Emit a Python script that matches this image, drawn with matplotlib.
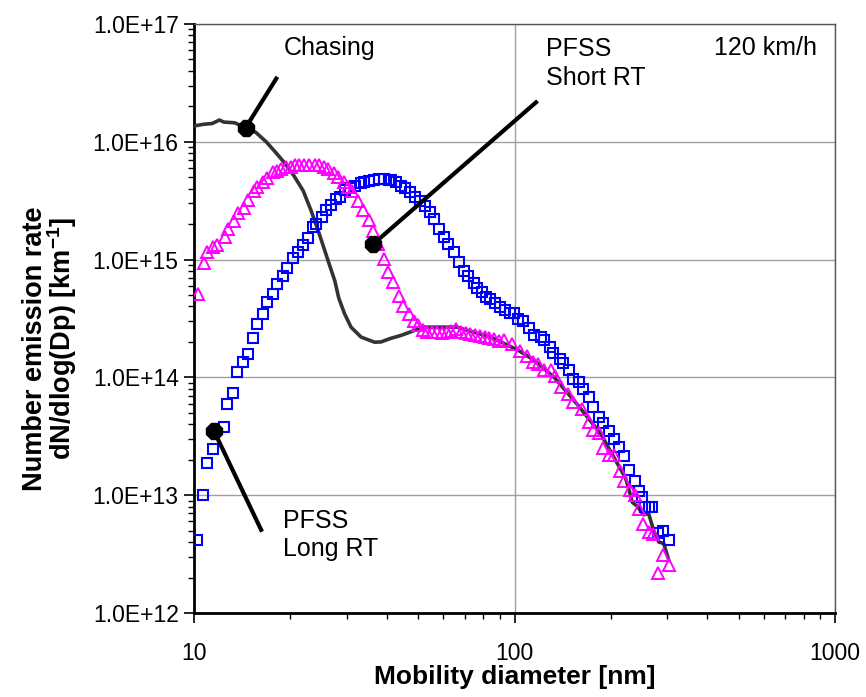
import numpy as np
import matplotlib
matplotlib.use("Agg")
import matplotlib.pyplot as plt
from matplotlib.ticker import LogLocator, FuncFormatter, NullFormatter

plt.rcParams['font.family'] = ['Liberation Sans', 'DejaVu Sans']

# PFSS with long residence time (blue squares)
long_rt_d = [10.2, 10.67, 10.98, 11.49, 12.38, 12.68, 13.27, 13.62, 14.23, 14.7,
             15.29, 15.77, 16.47, 16.95, 17.69, 18.17, 18.96, 19.5, 20.4, 21.06,
             21.9, 22.67, 23.5, 24.1, 25.1, 25.9, 26.8, 27.8, 28.6, 29.6,
             30.7, 31.8, 33.1, 34.0, 35.1, 36.4, 37.7, 39.2, 40.5, 41.3,
             42.8, 44.3, 45.6, 47.3, 49.0, 50.6, 52.5, 54.3, 56.1, 58.0,
             60.2, 62.1, 64.8, 67.2, 69.7, 71.8, 74.5, 76.6, 79.2, 81.5,
             84.0, 86.9, 90.2, 93.5, 96.5, 99.5, 102.8, 106.6, 111.3, 115.0,
             120.9, 123.3, 129.2, 132.1, 138.4, 141.6, 147.9, 152.2, 159.3, 163.4,
             170.2, 175.7, 183.1, 189.3, 197.3, 203.8, 211.6, 219.9, 228.3, 237.0,
             244.5, 250.0, 255.0, 262.0, 269.0, 280.0, 290.0, 303.0]
long_rt_n = [4.2e12, 1.0e13, 1.88e13, 2.45e13, 3.8e13, 6.0e13, 7.4e13, 1.12e14, 1.36e14, 1.59e14,
             2.17e14, 2.85e14, 3.47e14, 4.34e14, 5.15e14, 6.2e14, 7.3e14, 8.55e14, 1.03e15, 1.17e15,
             1.32e15, 1.53e15, 1.88e15, 2.0e15, 2.31e15, 2.64e15, 2.88e15, 3.24e15, 3.42e15, 3.9e15,
             4.05e15, 4.2e15, 4.47e15, 4.58e15, 4.65e15, 4.73e15, 4.8e15, 4.8e15, 4.78e15, 4.73e15,
             4.52e15, 4.23e15, 4.05e15, 3.72e15, 3.42e15, 3.16e15, 2.87e15, 2.52e15, 2.21e15, 1.82e15,
             1.57e15, 1.36e15, 1.15e15, 9.5e14, 7.96e14, 7.2e14, 6.3e14, 5.75e14, 5.3e14, 4.85e14,
             4.65e14, 4.27e14, 3.95e14, 3.7e14, 3.5e14, 3.5e14, 3.14e14, 3.0e14, 2.64e14, 2.27e14,
             2.2e14, 2.06e14, 1.81e14, 1.61e14, 1.44e14, 1.32e14, 1.16e14, 9.75e13, 9.1e13, 8.0e13,
             6.8e13, 5.6e13, 4.6e13, 4.1e13, 3.5e13, 3.0e13, 2.56e13, 2.14e13, 1.65e13, 1.32e13,
             1.09e13, 9.7e12, 8.0e12, 8.0e12, 8.0e12, 4.8e12, 4.98e12, 4.2e12]

# PFSS with short residence time (magenta triangles)
short_rt_d = [10.27, 10.72, 11.0, 11.5, 11.8, 12.5, 12.8, 13.3, 13.7, 14.3,
              14.7, 15.35, 15.7, 16.4, 16.9, 17.6, 18.2, 18.7, 19.4, 20.1,
              20.7, 21.3, 22.1, 22.9, 23.8, 24.6, 25.4, 26.2, 27.3, 28.1,
              29.3, 30.2, 31.2, 32.5, 33.7, 35.2, 36.1, 37.5, 39.1, 40.3,
              41.7, 43.7, 44.8, 46.9, 48.5, 50.1, 51.7, 53.5, 55.4, 57.3,
              59.3, 61.4, 63.5, 65.7, 68.0, 70.4, 72.8, 75.4, 78.0, 80.7,
              83.5, 86.4, 89.4, 92.7, 97.9, 104.0, 109.3, 114.3, 118.4, 123.3,
              130.2, 133.4, 140.1, 147.1, 152.3, 162.0, 170.6, 176.0, 184.0, 189.3,
              197.3, 204.0, 212.8, 219.9, 229.0, 236.9, 245.0, 252.3, 262.0, 270.0,
              281.0, 290.0, 303.0]
short_rt_n = [5.1e14, 9.3e14, 1.15e15, 1.27e15, 1.34e15, 1.57e15, 1.82e15, 2.11e15, 2.47e15, 2.74e15,
              3.2e15, 3.8e15, 4.1e15, 4.6e15, 4.9e15, 5.5e15, 5.7e15, 5.9e15, 6.1e15, 6.1e15,
              6.3e15, 6.4e15, 6.4e15, 6.4e15, 6.4e15, 6.3e15, 6.1e15, 5.9e15, 5.4e15, 5.0e15,
              4.6e15, 4.16e15, 3.8e15, 3.16e15, 2.64e15, 2.17e15, 1.74e15, 1.35e15, 1.01e15, 7.8e14,
              6.4e14, 4.95e14, 4.07e14, 3.42e14, 3.04e14, 2.81e14, 2.54e14, 2.45e14, 2.45e14, 2.42e14,
              2.4e14, 2.45e14, 2.5e14, 2.6e14, 2.45e14, 2.4e14, 2.35e14, 2.3e14, 2.25e14, 2.2e14,
              2.15e14, 2.1e14, 2.05e14, 2.08e14, 1.93e14, 1.67e14, 1.51e14, 1.35e14, 1.29e14, 1.15e14,
              1.16e14, 1.02e14, 8.3e13, 7.2e13, 6.2e13, 5.4e13, 4.2e13, 3.6e13, 3.4e13, 2.5e13,
              2.2e13, 2.2e13, 1.6e13, 1.32e13, 1.1e13, 1.0e13, 7.6e12, 5.75e12, 4.9e12, 4.7e12,
              2.2e12, 3.1e12, 2.55e12]

# Chasing measurement (solid line)
chasing_d = [10.1, 10.75, 11.4, 12.0, 12.4, 13.4, 14.5, 15.6, 16.8, 18.0,
             19.1, 20.5, 21.9, 23.2, 24.6, 26.2, 27.5, 28.3, 29.5, 30.9,
             33.2, 36.6, 38.3, 41.2, 44.2, 48.7, 52.4, 66.3, 71.5, 84.3,
             102.7, 115.0, 133.0, 157.0, 186.0, 222.0, 228.0, 233.0, 241.0, 253.0,
             262.0, 272.0, 282.0, 292.0, 303.0]
chasing_n = [1.37e16, 1.41e16, 1.43e16, 1.53e16, 1.47e16, 1.45e16, 1.32e16, 1.2e16, 1.0e16, 8.1e15,
             6.7e15, 5.15e15, 3.85e15, 2.6e15, 1.65e15, 9.8e14, 6.6e14, 4.7e14, 3.47e14, 2.67e14,
             2.2e14, 1.99e14, 2.0e14, 2.15e14, 2.27e14, 2.5e14, 2.67e14, 2.67e14, 2.5e14, 2.2e14,
             1.7e14, 1.4e14, 1.0e14, 5.9e13, 3.3e13, 1.4e13, 1.1e13, 8.7e12, 8.1e12, 6.8e12,
             7.0e12, 5.0e12, 4.0e12, 3.9e12, 2.8e12]

# Callouts: (label, anchor point on curve, end of leader line, text position)
callout_labels = ["Chasing", "PFSS\nShort RT", "PFSS\nLong RT"]
callout_anchor = [(14.5, 1.32e16), (36.3, 1.36e15), (11.55, 3.5e13)]
callout_end = [(18.2, 3.56e16), (118.0, 2.22e16), (16.3, 4.9e12)]
callout_text = [(19.0, 6.3e16), (125.0, 4.6e16), (19.0, 4.6e12)]
speed_label = "120 km/h"

fig = plt.figure(figsize=(8.66, 6.97), dpi=100)
ax = fig.add_axes([194 / 866, 1 - 613 / 697, (835 - 194) / 866, (613 - 24) / 697])

ax.set_xscale('log')
ax.set_yscale('log')
ax.set_xlim(10, 1000)
ax.set_ylim(1e12, 1e17)

ax.grid(True, which='major', color='#a0a0a0', linewidth=1.0)
ax.set_axisbelow(True)

ax.plot(chasing_d, chasing_n, color='#333333', linewidth=2.6, zorder=3)
ax.plot(long_rt_d, long_rt_n, linestyle='none', marker='s', markersize=7.0,
        markerfacecolor='none', markeredgecolor='#0000ff', markeredgewidth=1.5, zorder=4)
ax.plot(short_rt_d, short_rt_n, linestyle='none', marker='^', markersize=8.0,
        markerfacecolor='none', markeredgecolor='#ff00ff', markeredgewidth=1.4, zorder=4)

for label, (ax0, ay0), (ax1, ay1), (tx, ty) in zip(callout_labels, callout_anchor,
                                                  callout_end, callout_text):
    ax.plot([ax0, ax1], [ay0, ay1], color='black', linewidth=3.0, solid_capstyle='butt', zorder=5)
    ax.plot([ax0], [ay0], marker='8', markersize=12, color='black', zorder=6)
    ax.text(tx, ty, label, fontsize=18, ha='left', va='center', linespacing=1.25, zorder=7)

ax.text(420, 6.3e16, speed_label, fontsize=18, ha='left', va='center')

def sci_fmt(v, pos):
    e = int(round(np.log10(v)))
    return "1.0E+%02d" % e

ax.yaxis.set_major_locator(LogLocator(base=10, numticks=10))
ax.yaxis.set_minor_locator(LogLocator(base=10, subs=np.arange(2, 10), numticks=10))
ax.yaxis.set_major_formatter(FuncFormatter(sci_fmt))
ax.yaxis.set_minor_formatter(NullFormatter())
ax.xaxis.set_major_locator(LogLocator(base=10, numticks=10))
ax.xaxis.set_minor_locator(LogLocator(base=10, subs=np.arange(2, 10), numticks=10))
ax.xaxis.set_major_formatter(FuncFormatter(lambda v, p: "%d" % round(v)))
ax.xaxis.set_minor_formatter(NullFormatter())

ax.tick_params(axis='both', which='major', direction='out', length=7, width=1.2,
               labelsize=16.5, colors='black')
ax.tick_params(axis='both', which='minor', direction='out', length=4, width=1.0)
ax.tick_params(axis='x', which='major', pad=14)
ax.tick_params(axis='y', which='major', pad=4)

for side in ('left', 'bottom'):
    ax.spines[side].set_linewidth(2.0)
    ax.spines[side].set_color('black')
for side in ('top', 'right'):
    ax.spines[side].set_linewidth(1.0)
    ax.spines[side].set_color('#555555')

ax.set_xlabel('Mobility diameter [nm]', fontsize=19, fontweight='bold', labelpad=0)
fig.text(0.040, 0.50, 'Number emission rate', rotation=90, fontsize=19.5,
         fontweight='bold', ha='center', va='center')
fig.text(0.072, 0.515, 'dN/dlog(Dp) [km$^{\\mathregular{-1}}$]', rotation=90, fontsize=19.5,
         fontweight='bold', ha='center', va='center')

fig.savefig('out.png', dpi=100)
